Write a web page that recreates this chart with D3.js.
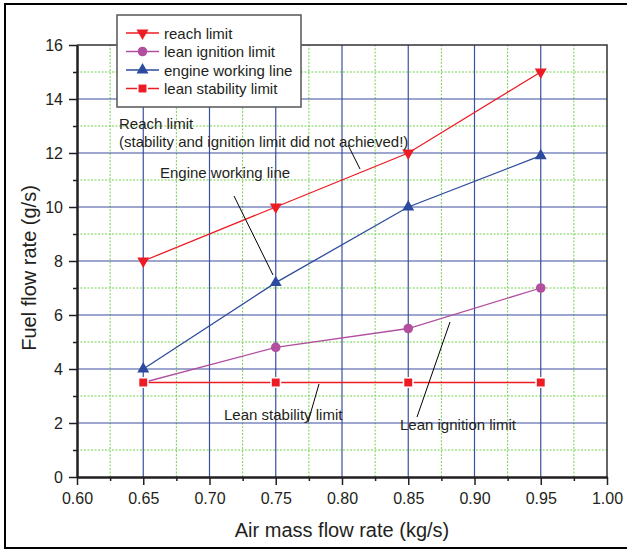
<!DOCTYPE html>
<html lang="en">
<head>
   <meta charset="UTF-8">
   <title>Fuel flow rate vs air mass flow rate</title>
   <script src="https://d3js.org/d3.v7.min.js"></script>
   <style>
       body {
           margin: 0;
           background: #fff;
       }
       svg text {
           font-family: "Liberation Sans", Arial, sans-serif;
           fill: #231f20;
       }
   </style>
</head>
<body>
   <div id="chart"></div>

   <script>
       // data
       const airFlow = [0.65, 0.75, 0.85, 0.95];
       const reachLimit = [8, 10, 12, 15];
       const leanIgnition = [3.5, 4.8, 5.5, 7.0];
       const engineLine = [4.0, 7.2, 10.0, 11.9];
       const leanStability = [3.5, 3.5, 3.5, 3.5];

       const xTicks = [0.60, 0.65, 0.70, 0.75, 0.80, 0.85, 0.90, 0.95, 1.00];
       const xMinor = [0.625, 0.675, 0.725, 0.775, 0.825, 0.875, 0.925, 0.975];
       const yTicks = [0, 2, 4, 6, 8, 10, 12, 14, 16];
       const yMinor = [1, 3, 5, 7, 9, 11, 13, 15];

       const width = 627;
       const height = 551;

       const series = [
           { name: "reach limit", values: reachLimit, color: "#ed1c24", symbol: "down" },
           { name: "lean ignition limit", values: leanIgnition, color: "#b24f9f", symbol: "circle" },
           { name: "engine working line", values: engineLine, color: "#2d4b9e", symbol: "up" },
           { name: "lean stability limit", values: leanStability, color: "#ed1c24", symbol: "square" }
       ];

       const svg = d3.select("#chart").append("svg")
           .attr("width", width)
           .attr("height", height);

       // outer frame
       svg.append("rect")
           .attr("x", 5).attr("y", 4)
           .attr("width", 640).attr("height", 544)
           .attr("fill", "none")
           .attr("stroke", "#000")
           .attr("stroke-width", 2);

       const x = d3.scaleLinear().domain([0.6, 1.0]).range([77, 607]);
       const y = d3.scaleLinear().domain([0, 16]).range([477, 45]);

       // minor grid (green dotted)
       const grid = svg.append("g");
       grid.selectAll(".vminor").data(xMinor).enter().append("line")
           .attr("x1", d => x(d)).attr("x2", d => x(d))
           .attr("y1", y(0)).attr("y2", y(16))
           .attr("stroke", "#74d24f").attr("stroke-dasharray", "2,1.5");
       grid.selectAll(".hminor").data(yMinor).enter().append("line")
           .attr("x1", x(0.6)).attr("x2", x(1.0))
           .attr("y1", d => y(d)).attr("y2", d => y(d))
           .attr("stroke", "#74d24f").attr("stroke-dasharray", "2,1.5");

       // major grid (blue)
       grid.selectAll(".vmajor").data(xTicks.slice(1, -1)).enter().append("line")
           .attr("x1", d => x(d)).attr("x2", d => x(d))
           .attr("y1", y(0)).attr("y2", y(16))
           .attr("stroke", "#3a4f9f").attr("stroke-width", 1.2);
       grid.selectAll(".hmajor").data(yTicks.slice(1, -1)).enter().append("line")
           .attr("x1", x(0.6)).attr("x2", x(1.0))
           .attr("y1", d => y(d)).attr("y2", d => y(d))
           .attr("stroke", "#3a4f9f").attr("stroke-width", 1.2);

       // top and right frame of plot
       svg.append("path")
           .attr("d", `M${x(0.6)},${y(16)}H${x(1.0)}V${y(0)}`)
           .attr("fill", "none")
           .attr("stroke", "#333")
           .attr("stroke-width", 1.5);

       // axes
       svg.append("g")
           .attr("transform", `translate(0,${y(0)})`)
           .call(d3.axisBottom(x).tickValues(xTicks).tickFormat(d3.format(".2f"))
               .tickSize(8).tickPadding(8).tickSizeOuter(0));
       svg.append("g")
           .attr("transform", `translate(0,${y(0)})`)
           .call(d3.axisBottom(x).tickValues(xMinor).tickFormat("").tickSize(4).tickSizeOuter(0));

       svg.append("g")
           .attr("transform", `translate(${x(0.6)},0)`)
           .call(d3.axisLeft(y).tickValues(yTicks).tickSize(8).tickPadding(6).tickSizeOuter(0));
       svg.append("g")
           .attr("transform", `translate(${x(0.6)},0)`)
           .call(d3.axisLeft(y).tickValues(yMinor).tickFormat("").tickSize(4).tickSizeOuter(0));

       svg.selectAll(".domain").attr("stroke", "#231f20").attr("stroke-width", 2);
       svg.selectAll(".tick line").attr("stroke", "#231f20").attr("stroke-width", 1.5);
       svg.selectAll(".tick text").style("font-size", "16px")
           .style("font-family", "'Liberation Sans', Arial, sans-serif").attr("fill", "#231f20");

       // axis titles
       svg.append("text")
           .attr("x", (x(0.6) + x(1.0)) / 2)
           .attr("y", 537)
           .attr("text-anchor", "middle")
           .style("font-size", "20px")
           .text("Air mass flow rate (kg/s)");

       svg.append("text")
           .attr("transform", `translate(36,268) rotate(-90)`)
           .attr("text-anchor", "middle")
           .style("font-size", "20px")
           .text("Fuel flow rate (g/s)");

       // marker helper
       function marker(g, kind, color, cx, cy) {
           if (kind === "circle") {
               g.append("circle").attr("cx", cx).attr("cy", cy).attr("r", 4.8)
                   .attr("fill", color);
           } else if (kind === "square") {
               g.append("rect").attr("x", cx - 4.7).attr("y", cy - 4.7)
                   .attr("width", 9.4).attr("height", 9.4)
                   .attr("fill", color).attr("stroke", "#fff").attr("stroke-width", 1.5);
           } else {
               const sym = d3.symbol().type(d3.symbolTriangle).size(62);
               g.append("path").attr("d", sym())
                   .attr("transform", `translate(${cx},${cy})` + (kind === "down" ? " rotate(180)" : ""))
                   .attr("fill", color);
           }
       }

       const line = d3.line().x(d => x(d[0])).y(d => y(d[1]));

       series.forEach(s => {
           const pts = airFlow.map((a, i) => [a, s.values[i]]);
           svg.append("path")
               .datum(pts)
               .attr("d", line)
               .attr("fill", "none")
               .attr("stroke", s.color)
               .attr("stroke-width", 1.3);
       });
       series.forEach(s => {
           const g = svg.append("g");
           airFlow.forEach((a, i) => marker(g, s.symbol, s.color, x(a), y(s.values[i])));
       });

       // legend
       const legend = svg.append("g");
       legend.append("rect")
           .attr("x", 117).attr("y", 15)
           .attr("width", 184).attr("height", 92)
           .attr("fill", "#fff")
           .attr("stroke", "#555")
           .attr("stroke-width", 1.5);
       series.forEach((s, i) => {
           const ly = 33 + i * 18.5;
           legend.append("line")
               .attr("x1", 126).attr("x2", 159)
               .attr("y1", ly).attr("y2", ly)
               .attr("stroke", s.color).attr("stroke-width", 1.3);
           marker(legend, s.symbol, s.color, 142.5, ly);
           legend.append("text")
               .attr("x", 164).attr("y", ly + 5.5)
               .style("font-size", "15px")
               .text(s.name);
       });

       // annotations with leader lines
       const notes = [
           { lines: ["Reach limit", "(stability and ignition limit did not achieved!)"], x: 119, y: 129, from: [348, 145], to: [360, 169] },
           { lines: ["Engine working line"], x: 160, y: 178, from: [234, 196], to: [273, 275] },
           { lines: ["Lean stability limit"], x: 224, y: 420, from: [319, 384], to: [308, 422] },
           { lines: ["Lean ignition limit"], x: 400, y: 430, from: [450, 322], to: [417, 417] }
       ];
       notes.forEach(n => {
           svg.append("line")
               .attr("x1", n.from[0]).attr("y1", n.from[1])
               .attr("x2", n.to[0]).attr("y2", n.to[1])
               .attr("stroke", "#000").attr("stroke-width", 1);
           n.lines.forEach((t, i) => {
               svg.append("text")
                   .attr("x", n.x).attr("y", n.y + i * 18)
                   .style("font-size", "15px")
                   .text(t);
           });
       });
   </script>
</body>
</html>
